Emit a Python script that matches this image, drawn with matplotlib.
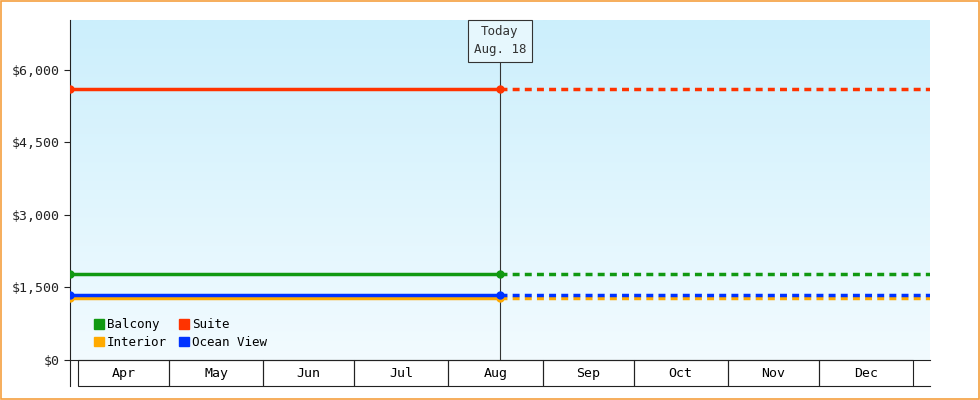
import matplotlib.pyplot as plt
import numpy as np
from matplotlib.patches import Rectangle
from matplotlib.colors import LinearSegmentedColormap

# days counted from Apr 1
months = ["Apr", "May", "Jun", "Jul", "Aug", "Sep", "Oct", "Nov", "Dec"]
month_starts = [0, 30, 61, 91, 122, 153, 183, 214, 244, 275]
today = 139
start_day = -2.6
end_day = 280.6

series_names = ["Balcony", "Suite", "Interior", "Ocean View"]
series_prices = [1780, 5600, 1290, 1350]
series_colours = ["#119911", "#ff3300", "#ffaa00", "#0033ff"]

yticks = [0, 1500, 3000, 4500, 6000]

plt.rcParams["font.family"] = "DejaVu Sans Mono"
fig = plt.figure(figsize=(9.8, 4.0), dpi=100)
fig.patches.append(Rectangle((0.001, 0.002), 0.998, 0.996, transform=fig.transFigure,
                             fill=False, edgecolor="#f5a040", linewidth=1.2))
ax = fig.add_axes([70 / 980, 40 / 400, 860 / 980, 340 / 400])
ax.set_xlim(start_day, end_day)
ax.set_ylim(0, 7030)

grad = np.linspace(0, 1, 256).reshape(-1, 1)
cmap = LinearSegmentedColormap.from_list("bg", ["#f2fbff", "#cceffc"])
ax.imshow(grad, cmap=cmap, aspect="auto", origin="lower",
          extent=[start_day, end_day, 0, 7030], zorder=0)

for name, price, col in zip(series_names, series_prices, series_colours):
    ax.plot([start_day, today], [price, price], color=col, lw=2.5, zorder=3,
            marker="o", ms=5)
    ax.plot([today, end_day], [price, price], color=col, lw=2.5, ls=(0, (2, 1.5)), zorder=3)

ax.axvline(today, color="#333333", lw=0.8, zorder=2)
ax.text(today, 6600, "Today\nAug. 18", ha="center", va="center", fontsize=9,
        color="#333333", linespacing=1.5, zorder=5,
        bbox=dict(boxstyle="square,pad=0.45", fc="#e6f7fd", ec="#333333", lw=0.8))

for s in ["top", "right"]:
    ax.spines[s].set_visible(False)
ax.spines["left"].set_color("#222222")
ax.spines["bottom"].set_color("#222222")
ax.set_yticks(yticks)
ax.set_yticklabels([f"${v:,}" for v in yticks], fontsize=9.5)
ax.tick_params(axis="y", length=4, colors="#222222")
ax.set_xticks([])

# month cells under the axis
trans = ax.get_xaxis_transform()
for i, m in enumerate(months):
    x0, x1 = month_starts[i], month_starts[i + 1]
    ax.add_patch(Rectangle((x0, -0.075), x1 - x0, 0.075, transform=trans, fill=False,
                           edgecolor="#222222", lw=0.8, clip_on=False))
    ax.text((x0 + x1) / 2, -0.04, m, transform=trans, ha="center", va="center", fontsize=9.5)
ax.plot([month_starts[-1], end_day], [-0.075, -0.075], transform=trans, color="#222222",
        lw=0.8, clip_on=False)
ax.plot([start_day, start_day], [0, -0.075], transform=trans, color="#222222", lw=0.8, clip_on=False)

# legend fills column-major, so order handles to read row-wise
order = [0, 2, 1, 3]
handles = [Rectangle((0, 0), 1, 1, color=series_colours[i]) for i in order]
ax.legend(handles, [series_names[i] for i in order], loc="lower left", ncol=2, frameon=False,
          fontsize=9, handlelength=0.8, handleheight=0.8, handletextpad=0.2, columnspacing=1.0,
          labelspacing=0.35, bbox_to_anchor=(0.015, 0.0))

fig.savefig("out.png", dpi=100)
